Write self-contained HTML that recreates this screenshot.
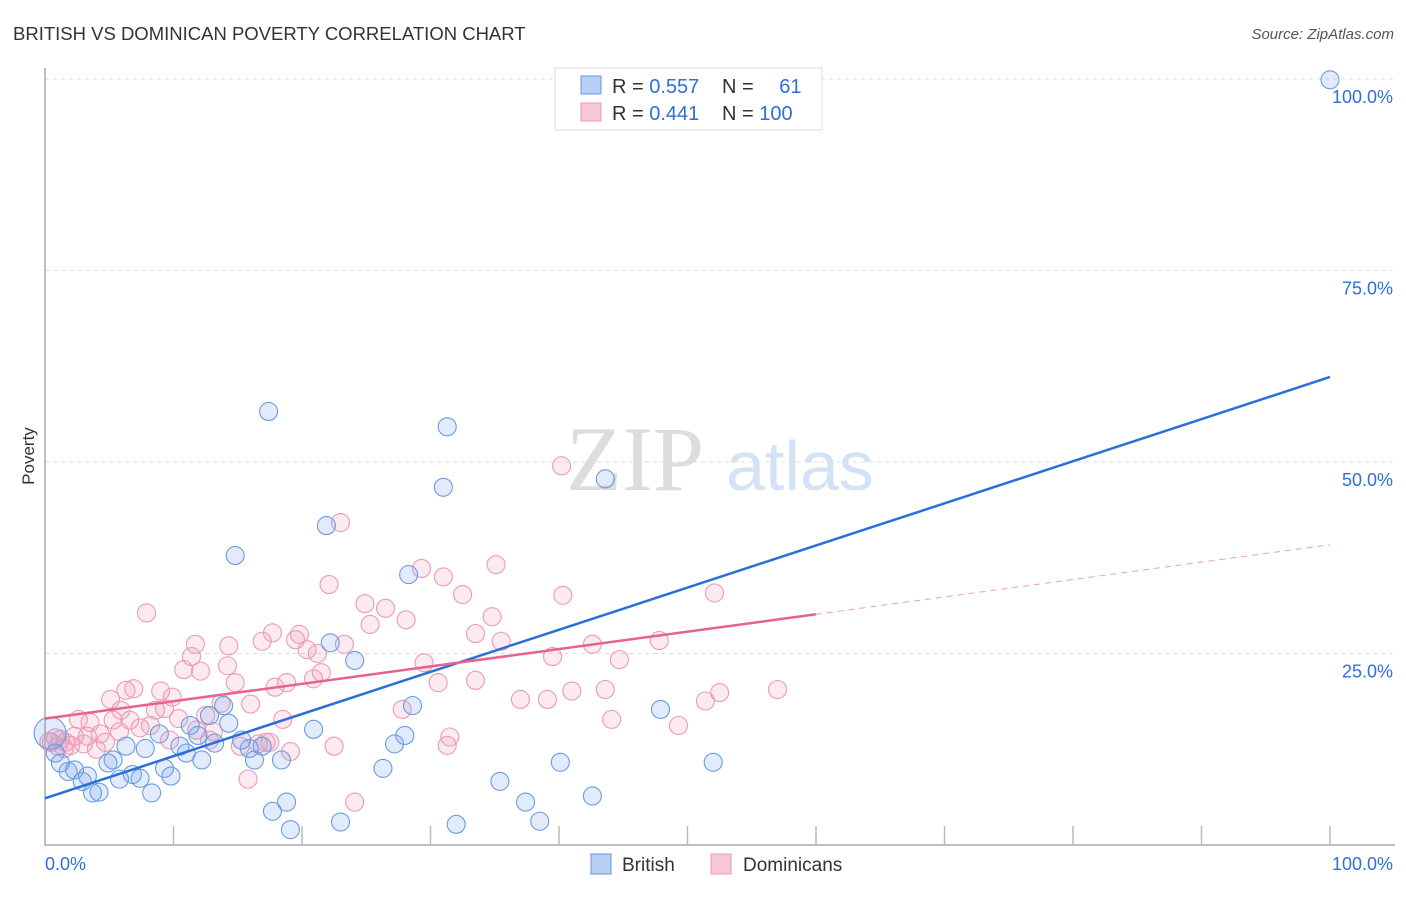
<!DOCTYPE html>
<html><head><meta charset="utf-8"><style>
body{margin:0;background:#fff;font-family:"Liberation Sans",sans-serif}
</style></head><body>
<svg id="c" width="1406" height="892" xmlns="http://www.w3.org/2000/svg" font-family="Liberation Sans, sans-serif">
<text x="13" y="40" font-size="18.5" fill="#333">BRITISH VS DOMINICAN POVERTY CORRELATION CHART</text>
<text x="1394" y="39" font-size="15" fill="#555" font-style="italic" text-anchor="end">Source: ZipAtlas.com</text>
<text x="34" y="456" font-size="17" fill="#333" text-anchor="middle" transform="rotate(-90 34 456)">Poverty</text>
<g><text x="635" y="490" font-size="92" fill="#ddd" font-family="Liberation Serif, serif" text-anchor="middle">ZIP</text><text x="800" y="490" font-size="70" fill="#d4e2f6" text-anchor="middle">atlas</text></g>
<g id="grid"></g><g id="pts"></g><g id="lines"></g>
<g>
<rect x="555" y="68" width="267" height="62" fill="#fff" stroke="#ddd"/>
<rect x="581" y="76" width="20" height="18" fill="#b8d0f5" stroke="#6699dd"/>
<rect x="581" y="103" width="20" height="18" fill="#f9c8d8" stroke="#e899b8"/>
<text x="612" y="93" font-size="20" fill="#333">R = <tspan fill="#2f6fd6">0.557</tspan></text>
<text x="722" y="93" font-size="20" fill="#333">N = <tspan fill="#2f6fd6" dx="20">61</tspan></text>
<text x="612" y="120" font-size="20" fill="#333">R = <tspan fill="#2f6fd6">0.441</tspan></text>
<text x="722" y="120" font-size="20" fill="#333">N = <tspan fill="#2f6fd6">100</tspan></text>
</g>
<g>
<rect x="591" y="854" width="20" height="20" fill="#b8d0f5" stroke="#6699dd"/>
<text x="622" y="871" font-size="19" fill="#333">British</text>
<rect x="711" y="854" width="20" height="20" fill="#f9c8d8" stroke="#e899b8"/>
<text x="743" y="871" font-size="19" fill="#333">Dominicans</text>
</g>
</svg>
<script>
const blueX=[100,17.4,31.3,31.0,43.6,21.9,14.8,28.3,22.2,24.1,28.6,47.9,20.9,28.0,27.2,52.0,40.1,26.3,35.4,37.4,42.6,18.8,17.7,19.1,23.0,32.0,38.5,0.4,0.8,1.2,1.8,2.3,2.9,3.3,3.7,4.2,4.9,5.3,5.8,6.3,6.8,7.4,7.8,8.3,8.9,9.3,9.8,10.5,11.0,11.3,11.9,12.2,12.8,13.2,13.9,14.3,15.3,15.9,16.3,16.9,18.4];
const blueY=[99.9,56.6,54.6,46.7,47.8,41.7,37.8,35.3,26.4,24.1,18.2,17.7,15.1,14.3,13.2,10.8,10.8,10.0,8.3,5.6,6.4,5.6,4.4,2.0,3.0,2.7,3.1,14.6,12.0,10.7,9.6,9.8,8.3,9.0,6.8,6.9,10.7,11.1,8.6,12.9,9.2,8.7,12.6,6.8,14.5,10.0,9.0,12.9,12.0,15.6,14.3,11.1,16.9,13.3,18.2,15.9,13.7,12.6,11.1,12.9,11.1];
const pinkX=[40.2,23.0,7.9,22.1,29.3,31.0,35.1,24.9,26.5,28.1,25.3,32.5,34.8,40.3,52.1,33.5,35.5,42.6,47.8,44.7,39.5,29.5,30.6,33.5,41.0,43.6,37.0,39.1,52.5,51.4,57.0,44.1,49.3,17.7,19.5,19.8,23.3,20.4,21.2,16.9,14.3,11.7,11.4,10.8,14.2,21.5,20.9,18.8,17.9,14.8,12.1,6.9,6.3,9.0,9.9,5.1,13.7,16.0,9.3,5.9,8.6,12.5,10.4,18.5,27.8,6.6,5.3,3.5,2.6,8.2,7.4,5.8,4.3,11.8,13.1,3.3,2.3,1.2,0.5,1.6,9.7,12.8,4.7,3.0,17.2,16.6,17.5,31.5,31.3,22.5,15.2,19.1,15.8,24.1,4.0,1.0,0.8,2.0,1.5,0.3];
const pinkY=[49.5,42.1,30.3,34.0,36.1,35.0,36.6,31.5,30.9,29.4,28.8,32.7,29.8,32.6,32.9,27.6,26.6,26.2,26.7,24.2,24.6,23.8,21.2,21.5,20.1,20.3,19.0,19.0,19.9,18.8,20.3,16.4,15.6,27.7,26.8,27.5,26.2,25.5,25.0,26.6,26.0,26.2,24.6,22.9,23.4,22.5,21.7,21.2,20.6,21.2,22.7,20.4,20.2,20.1,19.3,19.0,18.5,18.4,17.8,17.6,17.6,16.9,16.5,16.4,17.7,16.3,16.3,16.0,16.4,15.6,15.3,14.8,14.5,15.0,14.8,14.2,14.2,13.8,13.4,13.4,13.7,13.7,13.4,13.2,13.4,13.2,13.4,14.1,13.0,12.9,12.9,12.2,8.6,5.6,12.5,12.9,14.0,13.0,12.6,13.5];
const blueLine=[6.1,61.1];
const pinkLine=[16.5,39.2];
const yTicks=[25,50,75,100];
const yTickLabels=["25.0%","50.0%","75.0%","100.0%"];
const NS="http://www.w3.org/2000/svg";
const sx=v=>45+v*12.85, sy=v=>845-v*7.66;
function mk(t,a,p){const e=document.createElementNS(NS,t);for(const k in a)e.setAttribute(k,a[k]);p.appendChild(e);return e;}
const g=document.getElementById('grid');
yTicks.forEach((t,i)=>{
 const l=mk('line',{x1:45,x2:1395,y1:sy(t),y2:sy(t),stroke:'#ddd','stroke-dasharray':'4 4'},g);
 
 
 const tx=mk('text',{x:1393,y:sy(t)+24,'font-size':18,fill:'#2f6fd6','text-anchor':'end'},g);
 tx.textContent=yTickLabels[i];
 
 
});
const ax=mk('path',{d:`M45 68 V845 H1395`,stroke:'#aaa',fill:'none','stroke-width':1.5},g);


for(let i=1;i<=10;i++){const t=mk('line',{x1:sx(i*10),x2:sx(i*10),y1:826,y2:845,stroke:'#bbb','stroke-width':1.5},g);
 
 }
const x0=mk('text',{x:45,y:870,'font-size':18,fill:'#2f6fd6'},g);x0.textContent='0.0%';


const x1=mk('text',{x:1393,y:870,'font-size':18,fill:'#2f6fd6','text-anchor':'end'},g);x1.textContent='100.0%';


const P=document.getElementById('pts');
pinkX.forEach((x,i)=>{const c=mk('circle',{cx:sx(x),cy:sy(pinkY[i]),r:9,fill:'rgba(242,160,188,0.22)',stroke:'#eb9ab8','stroke-width':1.1},P);
 
 });
blueX.forEach((x,i)=>{const c=mk('circle',{cx:sx(x),cy:sy(blueY[i]),r:i==27?16:9,fill:'rgba(120,165,235,0.22)',stroke:'#6a9ce0','stroke-width':1.1},P);
 
 });
const L=document.getElementById('lines');
const bl=mk('line',{x1:sx(0),y1:sy(blueLine[0]),x2:sx(100),y2:sy(blueLine[1]),stroke:'#2a6fd8','stroke-width':2.5},L);


const pAt=x=>pinkLine[0]+(pinkLine[1]-pinkLine[0])*x/100;
const pl=mk('line',{x1:sx(0),y1:sy(pAt(0)),x2:sx(60),y2:sy(pAt(60)),stroke:'#e8628f','stroke-width':2.5},L);


const pd=mk('line',{x1:sx(60),y1:sy(pAt(60)),x2:sx(100),y2:sy(pAt(100)),stroke:'#e8a0b8','stroke-width':1,'stroke-dasharray':'6 5'},L);


</script>
</body></html>
